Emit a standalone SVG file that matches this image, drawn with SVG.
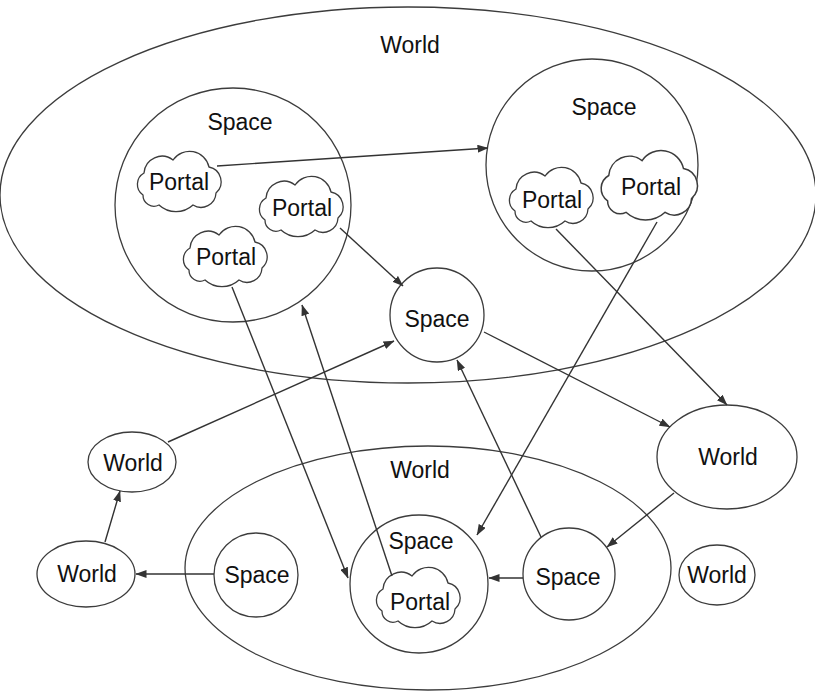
<svg xmlns="http://www.w3.org/2000/svg" xmlns:xlink="http://www.w3.org/1999/xlink" width="815" height="699" viewBox="0 0 815 699">
  <style>
    .shape { fill: none; stroke: #3c3c3c; stroke-width: 1.3; }
    .filled { fill: #ffffff; stroke: #3c3c3c; stroke-width: 1.3; }
    .label { font-family: "Liberation Sans", Arial, sans-serif; font-size: 23px; fill: #111; text-anchor: middle; }
    .edge { fill: none; stroke: #333; stroke-width: 1.4; marker-end: url(#arrow); }
  </style>
  <defs>
    <marker id="arrow" markerUnits="userSpaceOnUse" markerWidth="11" markerHeight="8" refX="10.5" refY="4" orient="auto">
      <path d="M0,0 L11,4 L0,8 z" fill="#333"/>
    </marker>
    <!-- cloud outline centred on the origin, about 82 x 60 -->
    <path id="cloud" d="M -36 12 A 13 13 0 0 1 -35 -10 A 18 18 0 0 1 -6 -23 A 20 20 0 0 1 30 -16 A 15 15 0 0 1 37 10 A 15 15 0 0 1 14 22 A 25 25 0 0 1 -20 22 A 11 11 0 0 1 -36 12 Z"/>
  </defs>

  <rect width="815" height="699" fill="#ffffff"/>

  <!-- containers -->
  <g id="world-top">
    <ellipse class="shape" cx="408" cy="195" rx="408" ry="188"/>
    <text class="label" x="410" y="53">World</text>
  </g>
  <g id="space-top-left">
    <ellipse class="shape" cx="233" cy="205" rx="118" ry="117"/>
    <text class="label" x="240" y="130">Space</text>
  </g>
  <g id="space-top-right">
    <circle class="shape" cx="592" cy="165" r="106"/>
    <text class="label" x="604" y="115">Space</text>
  </g>
  <g id="world-bottom">
    <ellipse class="shape" cx="428" cy="568" rx="243" ry="122"/>
    <text class="label" x="420" y="478">World</text>
  </g>
  <g id="space-bottom-center">
    <circle class="shape" cx="419" cy="584" r="69"/>
    <text class="label" x="421" y="549">Space</text>
  </g>

  <!-- simple nodes -->
  <g id="space-middle">
    <circle class="shape" cx="437" cy="315" r="47"/>
    <text class="label" x="437" y="327">Space</text>
  </g>
  <g id="space-bottom-right">
    <circle class="shape" cx="569" cy="574" r="46"/>
    <text class="label" x="568" y="585">Space</text>
  </g>
  <g id="space-bottom-left">
    <circle class="shape" cx="256" cy="575" r="42"/>
    <text class="label" x="257" y="583">Space</text>
  </g>
  <g id="world-left-lower">
    <ellipse class="shape" cx="86" cy="574" rx="49" ry="33"/>
    <text class="label" x="87" y="582">World</text>
  </g>
  <g id="world-left-upper">
    <ellipse class="shape" cx="132" cy="462" rx="44" ry="30"/>
    <text class="label" x="133" y="471">World</text>
  </g>
  <g id="world-right">
    <ellipse class="shape" cx="727" cy="457" rx="70" ry="52"/>
    <text class="label" x="728" y="465">World</text>
  </g>
  <g id="world-far-right">
    <ellipse class="shape" cx="717" cy="575" rx="38" ry="30"/>
    <text class="label" x="717" y="583">World</text>
  </g>

  <!-- portals -->
  <g id="portal-1">
    <use xlink:href="#cloud" href="#cloud" class="filled" transform="translate(179,183)"/>
    <text class="label" x="179" y="190">Portal</text>
  </g>
  <g id="portal-2">
    <use xlink:href="#cloud" href="#cloud" class="filled" transform="translate(301,208)"/>
    <text class="label" x="302" y="216">Portal</text>
  </g>
  <g id="portal-3">
    <use xlink:href="#cloud" href="#cloud" class="filled" transform="translate(225,258)"/>
    <text class="label" x="226" y="265">Portal</text>
  </g>
  <g id="portal-4">
    <use xlink:href="#cloud" href="#cloud" class="filled" transform="translate(551,199)"/>
    <text class="label" x="552" y="208">Portal</text>
  </g>
  <g id="portal-5">
    <use xlink:href="#cloud" href="#cloud" class="filled" transform="translate(649,187) scale(1.15)"/>
    <text class="label" x="651" y="195">Portal</text>
  </g>
  <g id="portal-6">
    <use xlink:href="#cloud" href="#cloud" class="filled" transform="translate(418,599)"/>
    <text class="label" x="420" y="610">Portal</text>
  </g>

  <!-- connectors -->
  <g id="connectors">
    <line class="edge" x1="217" y1="166" x2="488" y2="148"/>
    <line class="edge" x1="340" y1="228" x2="403" y2="286"/>
    <line class="edge" x1="232" y1="287" x2="348" y2="578"/>
    <line class="edge" x1="392" y1="576" x2="302" y2="305"/>
    <line class="edge" x1="556" y1="229" x2="727" y2="405"/>
    <line class="edge" x1="657" y1="222" x2="477" y2="535"/>
    <line class="edge" x1="484" y1="332" x2="670" y2="427"/>
    <line class="edge" x1="674" y1="493" x2="607" y2="547"/>
    <line class="edge" x1="523" y1="578" x2="489" y2="578"/>
    <line class="edge" x1="541" y1="537" x2="457" y2="360"/>
    <line class="edge" x1="168" y1="442" x2="394" y2="341"/>
    <line class="edge" x1="214" y1="574" x2="136" y2="574"/>
    <line class="edge" x1="105" y1="542" x2="120" y2="491"/>
  </g>
</svg>
